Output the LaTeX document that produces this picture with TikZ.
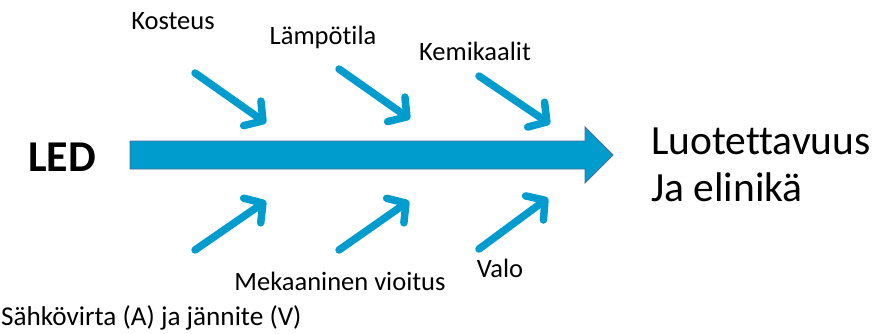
\documentclass[tikz,border=0pt]{standalone}
\usepackage{fontspec}
\setmainfont{Carlito}[Ligatures=NoCommon]
\usetikzlibrary{arrows.meta}
\definecolor{flowblue}{RGB}{0,156,206}
\definecolor{flowedge}{RGB}{70,110,150}
\tikzset{
  factor/.style={draw=flowblue, line width=7.5pt, line cap=round,
    -{Straight Barb[round, length=13pt, width=30pt, line width=7.5pt]}},
  lbl/.style={font=\fontsize{26.5}{30}\selectfont, inner sep=0pt},
  big/.style={font=\fontsize{41.5}{46}\selectfont, inner sep=0pt, anchor=west}
}
\begin{document}
\begin{tikzpicture}[x=1pt,y=-1pt]
\useasboundingbox (0,0) rectangle (875,333);
% main flow arrow
\draw[fill=flowblue, draw=flowedge, line width=0.8pt]
  (130,141) -- (585,141) -- (585,127) -- (613,155) -- (585,183) -- (585,169) -- (130,169) -- cycle;
% influencing factors
\coordinate (k1) at (195,73);  \coordinate (k2) at (266,123);
\coordinate (l1) at (339,69);  \coordinate (l2) at (410,119);
\coordinate (c1) at (479,76);  \coordinate (c2) at (550,124);
\coordinate (s1) at (195,250); \coordinate (s2) at (266,201);
\coordinate (m1) at (339,250); \coordinate (m2) at (409,201);
\coordinate (v1) at (479,249); \coordinate (v2) at (548,198);
\draw[factor] (k1) -- (k2);
\draw[factor] (l1) -- (l2);
\draw[factor] (c1) -- (c2);
\draw[factor] (s1) -- (s2);
\draw[factor] (m1) -- (m2);
\draw[factor] (v1) -- (v2);
% labels
\node[lbl] (kosteus) at (173,21) {Kosteus};
\node[lbl] (lampo) at (323,37) {Lämpötila};
\node[lbl] (kemi) at (475,51) {Kemikaalit};
\node[lbl] (meka) at (340,281) {Mekaaninen vioitus};
\node[lbl] (valo) at (500,268) {Valo};
\node[lbl, anchor=west, font=\fontsize{27.2}{31}\selectfont] (sahko) at (1,318) {Sähkövirta (A) ja jännite (V)};
\node[font=\fontsize{44}{50}\selectfont\bfseries, inner sep=0pt] (led) at (62,157) {LED};
\node[big] (luot) at (651,141) {Luotettavuus};
\node[big] (elin) at (651,187) {Ja elinikä};
\end{tikzpicture}
\end{document}
